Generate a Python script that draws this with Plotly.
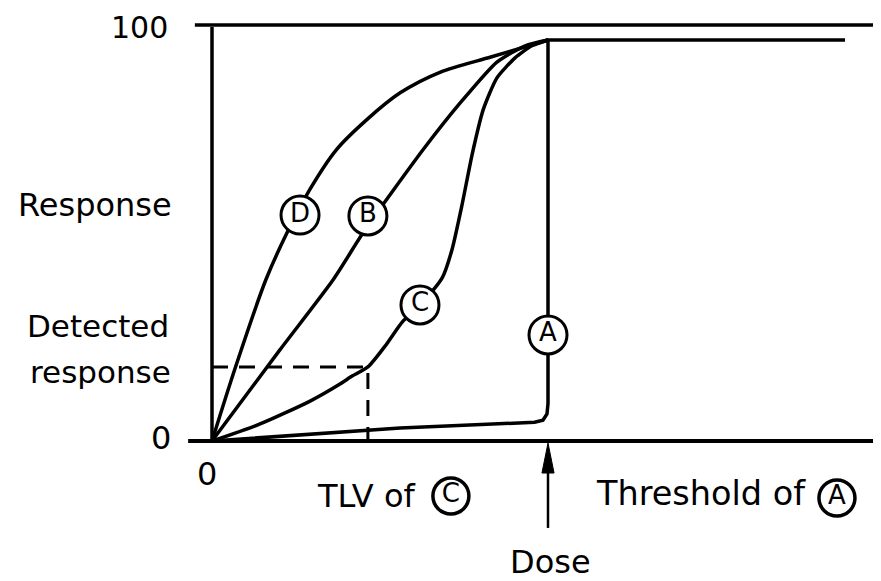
import plotly.graph_objects as go

FONT = "DejaVu Sans"
INK = "black"

# ---- data (dose in arbitrary units, threshold of A = 10; response in %) ----
THRESHOLD_A = 10.0
PLATEAU = 96.4
DOSE_MAX = 18.84
TLV_C = 4.64
DETECTED = 17.8

d_dose = [0, 0.7, 1.6, 2.2, 2.9, 3.7, 4.6, 5.6, 6.8, 8.3, 9.5, 10]
d_resp = [0, 17.8, 38.7, 49.5, 60.3, 70.0, 77.2, 83.7, 88.7, 92.3, 95.2, 96.4]

b_dose = [0, 2.02, 3.60, 4.55, 6.28, 7.38, 8.48, 9.32, 10]
b_resp = [0, 21.9, 38.7, 50.7, 70.0, 81.2, 91.1, 95.0, 96.4]

c_dose = [0, 1.43, 2.92, 3.81, 4.17, 4.64, 5.15, 5.66, 6.19, 6.85, 7.14, 7.44, 7.74, 8.07, 8.48, 9.02, 9.52, 10]
c_resp = [0, 4.1, 9.6, 13.7, 15.6, 17.8, 22.8, 28.6, 32.7, 39.2, 45.9, 56.7, 68.8, 79.6, 87.3, 92.1, 95.0, 96.4]

a_dose = [0, 5.6, 9.6, 9.85, 9.97, 10, 10, DOSE_MAX]
a_resp = [0, 3.1, 4.5, 5.0, 6.5, 9.0, PLATEAU, PLATEAU]

# curve label positions
lab_names = ["D", "B", "C", "A"]
lab_dose = [2.62, 4.64, 6.19, 10.0]
lab_resp = [54.3, 54.1, 32.7, 25.5]

# axis frame
y_top = 100
x_left_top = -0.51
x_left_bottom = -0.71
x_right = 20.5

fig = go.Figure()

# frame lines
fig.add_trace(go.Scatter(x=[x_left_bottom, x_right], y=[0, 0], mode="lines",
                         line=dict(color=INK, width=4), hoverinfo="skip"))
fig.add_trace(go.Scatter(x=[x_left_top, x_right], y=[y_top, y_top], mode="lines",
                         line=dict(color=INK, width=3.5), hoverinfo="skip"))
fig.add_trace(go.Scatter(x=[0, 0], y=[0, 99.5], mode="lines",
                         line=dict(color=INK, width=3.5), hoverinfo="skip"))

# TLV dashed lines
fig.add_trace(go.Scatter(x=[0, TLV_C, TLV_C], y=[DETECTED, DETECTED, 0], mode="lines",
                         line=dict(color=INK, width=3, dash="16px,11px"), hoverinfo="skip"))

# curves
fig.add_trace(go.Scatter(x=d_dose, y=d_resp, mode="lines",
                         line=dict(color=INK, width=3.5, shape="spline", smoothing=0.8)))
fig.add_trace(go.Scatter(x=b_dose, y=b_resp, mode="lines",
                         line=dict(color=INK, width=3.5, shape="spline", smoothing=0.6)))
fig.add_trace(go.Scatter(x=c_dose, y=c_resp, mode="lines",
                         line=dict(color=INK, width=3.5, shape="spline", smoothing=0.6)))
fig.add_trace(go.Scatter(x=a_dose, y=a_resp, mode="lines",
                         line=dict(color=INK, width=3.5)))

# curve labels (circled letters)
fig.add_trace(go.Scatter(
    x=lab_dose, y=lab_resp, mode="markers+text", text=lab_names,
    textposition="middle center",
    textfont=dict(family=FONT, size=26, color=INK),
    marker=dict(symbol="circle", size=38, color="white", line=dict(color=INK, width=3)),
    cliponaxis=False, hoverinfo="skip"))

# threshold arrow
ARROW_TIP = -0.5
ARROW_TAIL = -20.9
HEAD_LEN = 7.2
HEAD_HALF = 0.18
fig.add_trace(go.Scatter(x=[THRESHOLD_A, THRESHOLD_A], y=[ARROW_TAIL, ARROW_TIP - HEAD_LEN + 1],
                         mode="lines", line=dict(color=INK, width=2.5), hoverinfo="skip"))
fig.add_trace(go.Scatter(
    x=[THRESHOLD_A, THRESHOLD_A - HEAD_HALF, THRESHOLD_A + HEAD_HALF, THRESHOLD_A],
    y=[ARROW_TIP, ARROW_TIP - HEAD_LEN, ARROW_TIP - HEAD_LEN, ARROW_TIP],
    mode="lines", fill="toself", fillcolor=INK, line=dict(color=INK, width=1), hoverinfo="skip"))

# x-axis label circles
xl_names = ["C", "A"]
xl_dose = [7.11, 18.6]
xl_resp = [-13.2, -13.7]
fig.add_trace(go.Scatter(
    x=xl_dose, y=xl_resp, mode="markers+text", text=xl_names,
    textposition="middle center",
    textfont=dict(family=FONT, size=26, color=INK),
    marker=dict(symbol="circle", size=36, color="white", line=dict(color=INK, width=3.5)),
    cliponaxis=False, hoverinfo="skip"))

def ann(text, x, y, xanchor="center", size=32):
    fig.add_annotation(text=text, x=x, y=y, xref="x", yref="y", showarrow=False,
                       xanchor=xanchor, yanchor="middle",
                       font=dict(family=FONT, size=size, color=INK))

ann("100", -1.25, 99.5, "right", 30)
ann("Response", -1.12, 56.7, "right", 32)
ann("Detected", -1.22, 27.7, "right", 31)
ann("response", -1.16, 16.5, "right", 31)
ann("0", -1.16, 0.7, "right", 32)
ann("0", -0.15, -7.9, "center", 32)
ann("TLV of", 3.07, -13.1, "left", 32)
ann("Threshold of", 11.37, -12.7, "left", 33.5)
ann("Dose", 10.06, -29.1, "center", 32)

# the page body has an 8px margin; the figure starts 8px in from the top-left
fig.update_layout(
    width=873, height=573,
    margin=dict(l=0, r=0, t=0, b=0),
    paper_bgcolor="white", plot_bgcolor="white",
    showlegend=False,
    xaxis=dict(visible=False, range=[-6.0714, 19.9107], fixedrange=True),
    yaxis=dict(visible=False, range=[-33.654, 104.09], fixedrange=True),
)

fig.write_html("out.html")
